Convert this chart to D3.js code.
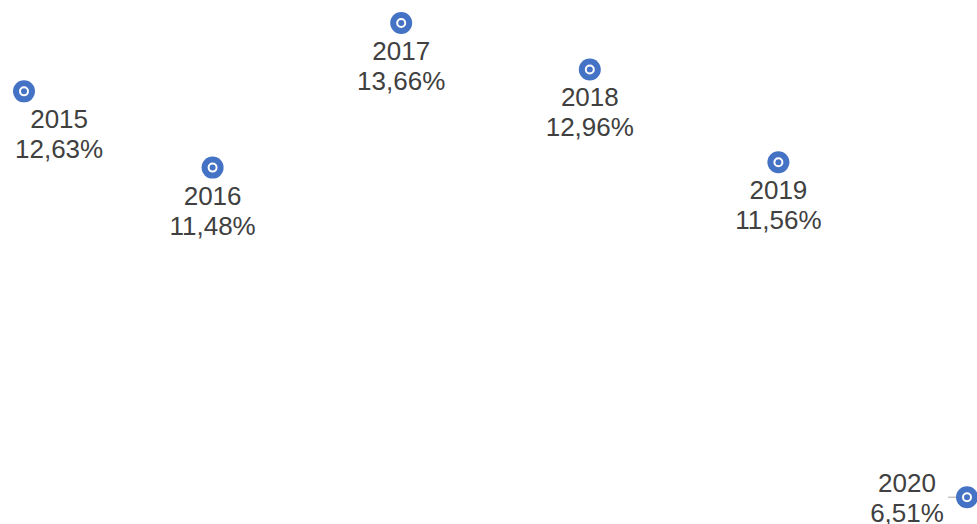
<!DOCTYPE html>
<html>
<head>
<meta charset="utf-8">
<script src="https://cdn.jsdelivr.net/npm/d3@7"></script>
<style>
html,body{margin:0;padding:0;background:#fff;overflow:hidden;}
svg{display:block;}
</style>
</head>
<body>
<svg id="chart" width="977" height="524"></svg>
<script>
const years = ["2015","2016","2017","2018","2019","2020"];
const values = [12.63, 11.48, 13.66, 12.96, 11.56, 6.51];
const valueLabels = ["12,63%","11,48%","13,66%","12,96%","11,56%","6,51%"];

const svg = d3.select("#chart");
const x = d3.scalePoint().domain(years).range([24, 967]);
const y = d3.scaleLinear().domain([6, 14]).range([531, 0.5]);

const data = years.map((yr, i) => ({yr, v: values[i], lbl: valueLabels[i], last: i === years.length - 1}));

const g = svg.append("g");

// leader line for last label
g.selectAll("line.leader").data(data.filter(d => d.last)).enter().append("line")
  .attr("x1", d => x(d.yr) - 19).attr("x2", d => x(d.yr) - 10)
  .attr("y1", d => y(d.v)).attr("y2", d => y(d.v))
  .attr("stroke", "#a6a6a6").attr("stroke-width", 1);

const pts = g.selectAll("g.pt").data(data).enter().append("g")
  .attr("transform", d => `translate(${x(d.yr)},${y(d.v)})`);
pts.append("circle").attr("r", 11).attr("fill", "#4472c4");
pts.append("circle").attr("r", 4).attr("fill", "none").attr("stroke", "#fff").attr("stroke-width", 2);

const txt = g.selectAll("text.lbl").data(data).enter().append("text")
  .attr("text-anchor", "middle")
  .attr("font-family", "'Liberation Sans', Arial, sans-serif")
  .attr("font-size", 26)
  .attr("fill", "#404040");
txt.append("tspan")
  .attr("x", d => d.last ? x(d.yr) - 60 : x(d.yr))
  .attr("y", d => d.last ? y(d.v) - 5 : y(d.v) + 37)
  .text(d => d.yr);
txt.append("tspan")
  .attr("x", d => d.last ? x(d.yr) - 60 : x(d.yr))
  .attr("y", d => d.last ? y(d.v) + 25 : y(d.v) + 67)
  .text(d => d.lbl);

// keep labels inside the left edge
txt.each(function() {
  const bb = this.getBBox();
  const minLeft = 15;
  if (bb.x < minLeft) {
    const dx = minLeft - bb.x;
    d3.select(this).selectAll("tspan").attr("x", function() { return +d3.select(this).attr("x") + dx; });
  }
});
</script>
</body>
</html>
